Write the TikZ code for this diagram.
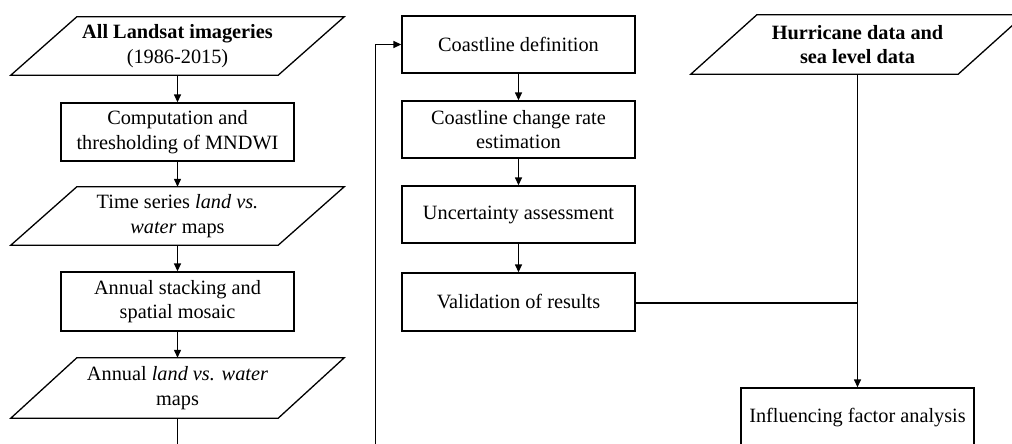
\documentclass[tikz,border=0pt]{standalone}
\usepackage{fontspec}
\setmainfont{Liberation Serif}
\usetikzlibrary{arrows.meta}
\tikzset{
  base/.style={inner sep=0pt, align=center, font=\fontsize{20.3}{24.5}\selectfont},
  box/.style={base, draw, line width=1.3pt, minimum width=233pt},
  para/.style={base, minimum width=333pt},
  conn/.style={line width=1.3pt},
  arr/.style={conn, -{Triangle[length=8pt,width=7pt]}},
  pline/.style={line width=1.3pt, line join=miter}
}
\newcommand{\drawpara}[1]{%
  \draw[pline] (#1.south west) -- ([xshift=-66pt]#1.south east) -- (#1.north east) -- ([xshift=66pt]#1.north west) -- cycle;}
\begin{document}
\begin{tikzpicture}[x=1pt,y=1pt]
\path[use as bounding box] (0,0) rectangle (1012,-444);
\clip (0,0) rectangle (1012,-444);
% left column
\node[para, minimum height=58pt] (P1) at (177.5,-46) {\textbf{All Landsat imageries}\\(1986-2015)};
\node[box, minimum height=58pt] (B1) at (177.5,-132) {Computation and\\thresholding of MNDWI};
\node[para, minimum height=58pt] (P2) at (177.5,-216) {Time series \textit{land vs.}\\\textit{water} maps};
\node[box, minimum height=59pt] (B2) at (177.5,-301.5) {Annual stacking and\\spatial mosaic};
\node[para, minimum height=60pt] (P3) at (177.5,-388) {Annual \textit{land vs. water}\\maps};
\drawpara{P1}\drawpara{P2}\drawpara{P3}
% middle column
\node[box, minimum height=57pt] (C1) at (518.5,-44.5) {Coastline definition};
\node[box, minimum height=57pt] (C2) at (518.5,-129.5) {Coastline change rate\\estimation};
\node[box, minimum height=57pt] (C3) at (518.5,-214.5) {Uncertainty assessment};
\node[box, minimum height=58pt] (C4) at (518.5,-302) {Validation of results};
% right column
\node[para, minimum height=59pt] (H) at (857.5,-44.5) {\textbf{Hurricane data and}\\\textbf{sea level data}};
\drawpara{H}
\node[box, minimum height=60pt] (IF) at (857.5,-418) {Influencing factor analysis};
% connectors
\draw[arr] (P1) -- (B1);
\draw[arr] (B1) -- (P2);
\draw[arr] (P2) -- (B2);
\draw[arr] (B2) -- (P3);
\draw[arr] (C1) -- (C2);
\draw[arr] (C2) -- (C3);
\draw[arr] (C3) -- (C4);
\coordinate (fb) at (375.5,-470);
\draw[arr] (P3.south) |- (fb) |- (C1.west);
\draw[arr] (H.south) -- (IF.north);
\coordinate (J) at (857.5,-303);
\draw[conn] (C4.east |- J) -- (J);
\end{tikzpicture}
\end{document}
